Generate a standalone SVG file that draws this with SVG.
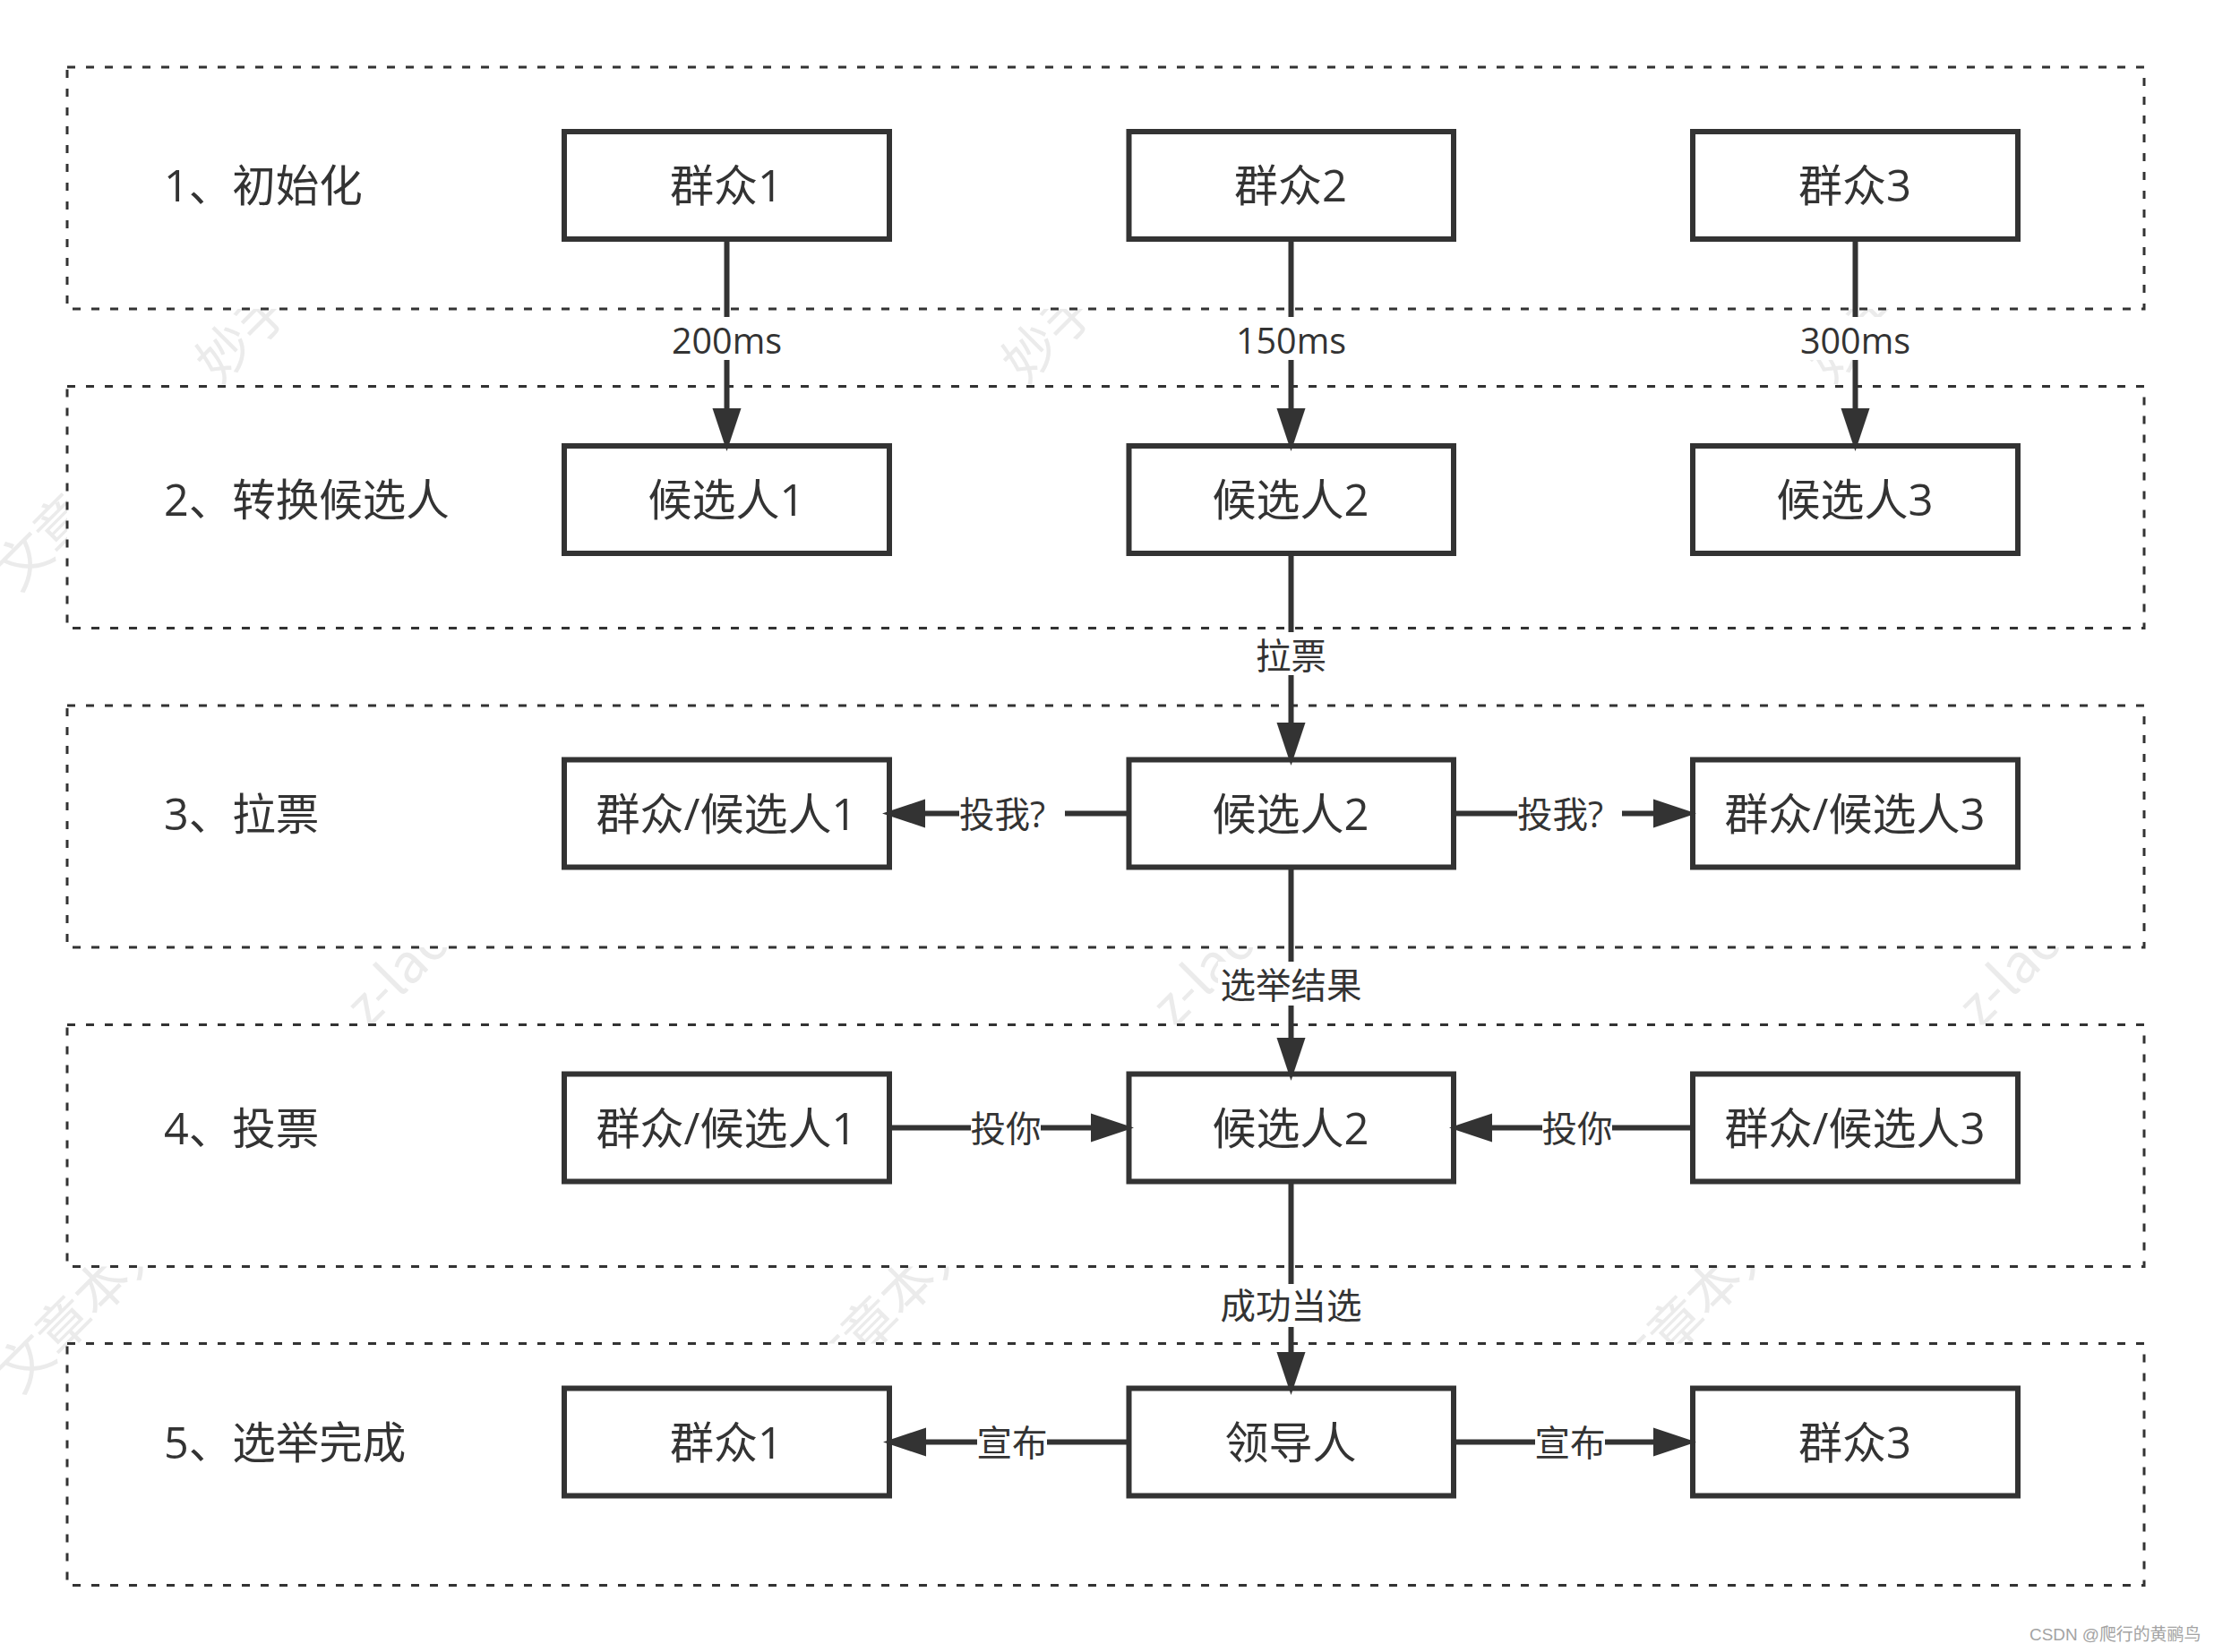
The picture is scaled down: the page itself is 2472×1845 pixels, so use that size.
<svg xmlns="http://www.w3.org/2000/svg" width="2472" height="1845" viewBox="0 0 2472 1845">
<style>
text{font-family:"Open Sans","Noto Sans CJK SC",sans-serif;fill:#333}
.zone{fill:#fff;stroke:#333;stroke-width:3;stroke-dasharray:9 12}
.box{fill:#fff;stroke:#333;stroke-width:6}
.t{font-size:49px;text-anchor:middle}
.h{font-size:48.5px}
.l{font-size:39.5px;text-anchor:middle}
.line{fill:none;stroke:#333;stroke-width:6}
.bg{fill:#fff}
.wm{font-size:60px;fill:#ebebeb;font-family:"Noto Sans CJK SC","Open Sans",sans-serif}
.foot{font-size:18.9px;fill:#a3a3a3;font-family:"Liberation Sans","Noto Sans CJK SC",sans-serif}
</style>
<defs>
<marker id="arrow" markerUnits="userSpaceOnUse" markerWidth="50" markerHeight="34" refX="0" refY="17" orient="auto"><path d="M0 1L48 17L0 33Z" fill="#333"/></marker>
</defs>
<rect width="2472" height="1845" fill="#fff"/>
<g id="watermarks">
<text class="wm" transform="translate(245,399) rotate(-45)" x="-22" y="22">妙手</text>
<text class="wm" transform="translate(1145,399) rotate(-45)" x="-22" y="22">妙手</text>
<text class="wm" transform="translate(2045,399) rotate(-45)" x="-22" y="22">妙手</text>
<text class="wm" transform="translate(25,627) rotate(-45)" x="-28" y="22">文章</text>
<text class="wm" transform="translate(396,1134) rotate(-45)" y="22">z-lao</text>
<text class="wm" transform="translate(1296,1134) rotate(-45)" y="22">z-lao</text>
<text class="wm" transform="translate(2196,1134) rotate(-45)" y="22">z-lao</text>
<text class="wm" transform="translate(27,1523) rotate(-45)" x="-28" y="22">文章本人</text>
<text class="wm" transform="translate(927,1523) rotate(-45)" x="-28" y="22">文章本人</text>
<text class="wm" transform="translate(1827,1523) rotate(-45)" x="-28" y="22">文章本人</text>
</g>
<g id="zone1"><rect class="zone" x="75" y="75" width="2319" height="270"/><text class="h" x="183" y="225">1、初始化</text></g>
<g id="zone2"><rect class="zone" x="75" y="431.5" width="2319" height="270"/><text class="h" x="183" y="576">2、转换候选人</text></g>
<g id="zone3"><rect class="zone" x="75" y="788" width="2319" height="270"/><text class="h" x="183" y="927">3、拉票</text></g>
<g id="zone4"><rect class="zone" x="75" y="1144.5" width="2319" height="270"/><text class="h" x="183" y="1278">4、投票</text></g>
<g id="zone5"><rect class="zone" x="75" y="1500.5" width="2319" height="270"/><text class="h" x="183" y="1629">5、选举完成</text></g>
<g id="n11"><rect class="box" x="630" y="147" width="363" height="120"/><text class="t" x="811" y="225">群众1</text></g>
<g id="n12"><rect class="box" x="1260.5" y="147" width="362.5" height="120"/><text class="t" x="1441" y="225">群众2</text></g>
<g id="n13"><rect class="box" x="1890" y="147" width="363" height="120"/><text class="t" x="2071" y="225">群众3</text></g>
<g id="n21"><rect class="box" x="630" y="498" width="363" height="120"/><text class="t" x="811" y="576">候选人1</text></g>
<g id="n22"><rect class="box" x="1260.5" y="498" width="362.5" height="120"/><text class="t" x="1441" y="576">候选人2</text></g>
<g id="n23"><rect class="box" x="1890" y="498" width="363" height="120"/><text class="t" x="2071" y="576">候选人3</text></g>
<g id="n31"><rect class="box" x="630" y="848.5" width="363" height="120"/><text class="t" x="811" y="927">群众/候选人1</text></g>
<g id="n32"><rect class="box" x="1260.5" y="848.5" width="362.5" height="120"/><text class="t" x="1441" y="927">候选人2</text></g>
<g id="n33"><rect class="box" x="1890" y="848.5" width="363" height="120"/><text class="t" x="2071" y="927">群众/候选人3</text></g>
<g id="n41"><rect class="box" x="630" y="1199.5" width="363" height="120"/><text class="t" x="811" y="1278">群众/候选人1</text></g>
<g id="n42"><rect class="box" x="1260.5" y="1199.5" width="362.5" height="120"/><text class="t" x="1441" y="1278">候选人2</text></g>
<g id="n43"><rect class="box" x="1890" y="1199.5" width="363" height="120"/><text class="t" x="2071" y="1278">群众/候选人3</text></g>
<g id="n51"><rect class="box" x="630" y="1550.5" width="363" height="120"/><text class="t" x="811" y="1629">群众1</text></g>
<g id="n52"><rect class="box" x="1260.5" y="1550.5" width="362.5" height="120"/><text class="t" x="1441" y="1629">领导人</text></g>
<g id="n53"><rect class="box" x="1890" y="1550.5" width="363" height="120"/><text class="t" x="2071" y="1629">群众3</text></g>
<g id="connectors">
<g id="c-200ms"><path class="line" d="M811.5 268V456" marker-end="url(#arrow)"/><rect class="bg" x="746" y="354" width="132" height="48"/><text class="l" x="811.5" y="395">200ms</text></g>
<g id="c-150ms"><path class="line" d="M1441.5 268V456" marker-end="url(#arrow)"/><rect class="bg" x="1376" y="354" width="132" height="48"/><text class="l" x="1441.5" y="395">150ms</text></g>
<g id="c-300ms"><path class="line" d="M2071.5 268V456" marker-end="url(#arrow)"/><rect class="bg" x="2005" y="354" width="132" height="48"/><text class="l" x="2071.5" y="395">300ms</text></g>
<g id="c-canvass"><path class="line" d="M1441.5 618V807" marker-end="url(#arrow)"/><rect class="bg" x="1400" y="706" width="83" height="48"/><text class="l" x="1441.5" y="747">拉票</text></g>
<g id="c-ask-left"><path class="line" d="M1260 908.5H1033" marker-end="url(#arrow)"/><rect class="bg" x="1071" y="885" width="118" height="48"/><text class="l" x="1071" y="924" style="text-anchor:start">投我?</text></g>
<g id="c-ask-right"><path class="line" d="M1623 908.5H1846" marker-end="url(#arrow)"/><rect class="bg" x="1694" y="885" width="117" height="48"/><text class="l" x="1694" y="924" style="text-anchor:start">投我?</text></g>
<g id="c-result"><path class="line" d="M1441.5 969V1159" marker-end="url(#arrow)"/><rect class="bg" x="1360" y="1074" width="163" height="49"/><text class="l" x="1441.5" y="1115">选举结果</text></g>
<g id="c-vote-left"><path class="line" d="M993 1259.5H1218" marker-end="url(#arrow)"/><rect class="bg" x="1084" y="1236" width="78" height="48"/><text class="l" x="1123" y="1275">投你</text></g>
<g id="c-vote-right"><path class="line" d="M1890 1259.5H1666" marker-end="url(#arrow)"/><rect class="bg" x="1722" y="1236" width="78" height="48"/><text class="l" x="1761" y="1275">投你</text></g>
<g id="c-win"><path class="line" d="M1441.5 1320V1510" marker-end="url(#arrow)"/><rect class="bg" x="1360" y="1434" width="163" height="48"/><text class="l" x="1441.5" y="1473">成功当选</text></g>
<g id="c-ann-left"><path class="line" d="M1260 1610.5H1034" marker-end="url(#arrow)"/><rect class="bg" x="1091" y="1587" width="78" height="48"/><text class="l" x="1130" y="1626">宣布</text></g>
<g id="c-ann-right"><path class="line" d="M1623 1610.5H1846" marker-end="url(#arrow)"/><rect class="bg" x="1714" y="1587" width="78" height="48"/><text class="l" x="1753" y="1626">宣布</text></g>
</g>
<text class="foot" x="2266" y="1832">CSDN @爬行的黄鹂鸟</text>
</svg>
